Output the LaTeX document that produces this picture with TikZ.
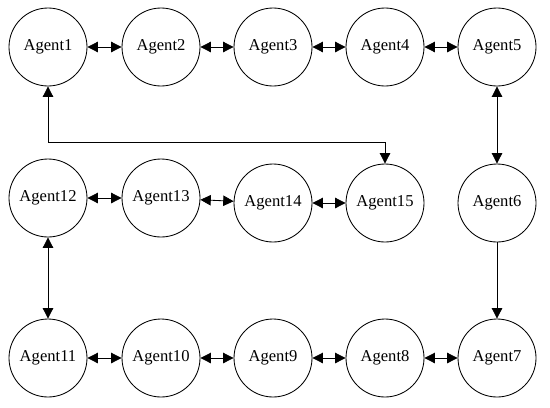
\documentclass[tikz,border=0pt]{standalone}
\usepackage{fontspec}
\setmainfont{Liberation Serif}
\usepackage{tikz}
\usetikzlibrary{arrows.meta}
\def\r{1.95 cm}
\def\colA{1.2}
\def\colB{4.025}
\def\colC{6.825}
\def\colD{9.625}
\def\colE{12.425}

\begin{document}
\begin{tikzpicture}[
    line width=0.6pt,
    >={Triangle[length=2.6mm,width=2.6mm]},
    every node/.style={circle, draw, minimum size=\r, inner sep=0pt,
        font=\fontsize{11.8}{14}\selectfont}
]
\useasboundingbox (0,0) rectangle (13.75,10.175);
% top row
\node (1) at (\colA,9.0) {Agent1};
\node (2) at (\colB,9.0) {Agent2};
\node (3) at (\colC,9.0) {Agent3};
\node (4) at (\colD,9.0) {Agent4};
\node (5) at (\colE,9.0) {Agent5};
% middle row
\node (12) at (\colA,5.225) {Agent12};
\node (13) at (\colB,5.225) {Agent13};
\node (14) at (\colC,5.1) {Agent14};
\node (15) at (\colD,5.1) {Agent15};
\node (6) at (\colE,5.1) {Agent6};
% bottom row
\node (11) at (\colA,1.225) {Agent11};
\node (10) at (\colB,1.225) {Agent10};
\node (9) at (\colC,1.225) {Agent9};
\node (8) at (\colD,1.225) {Agent8};
\node (7) at (\colE,1.225) {Agent7};
\coordinate (bend) at (\colD,6.625);
\draw[<->] (1) -- (2);
\draw[<->] (2) -- (3);
\draw[<->] (3) -- (4);
\draw[<->] (4) -- (5);
\draw[<->] (5) -- (6);
\draw[->] (6) -- (7);
\draw[<->] (7) -- (8);
\draw[<->] (8) -- (9);
\draw[<->] (9) -- (10);
\draw[<->] (10) -- (11);
\draw[<->] (11) -- (12);
\draw[<->] (12) -- (13);
\draw[<->] (13) -- (14);
\draw[<->] (14) -- (15);
\draw[<->] (1) |- (bend) -- (15);
\end{tikzpicture}
\end{document}
